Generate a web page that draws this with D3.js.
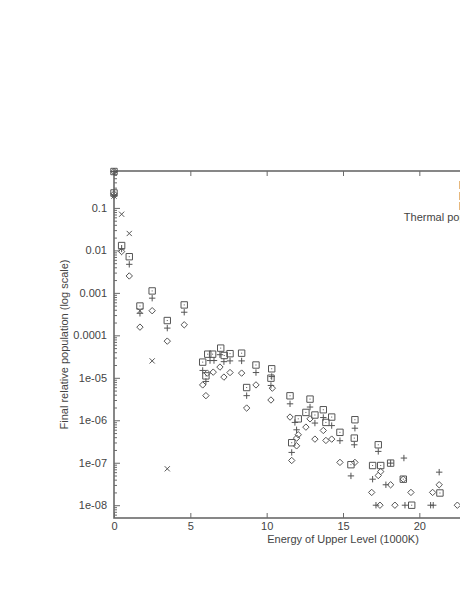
<!DOCTYPE html>
<html>
<head>
<meta charset="utf-8">
<script src="https://cdn.jsdelivr.net/npm/d3@7"></script>
<style>
  body { margin: 0; background: #fff; }
  svg { display: block; }
  text { font-family: "Liberation Sans", Arial, sans-serif; font-size: 11px; fill: #444; }
</style>
</head>
<body>
<svg id="chart" width="460" height="595"></svg>
<script>
// [energy (1000K), final relative population]
const boxPts = [
  [0, 0.72], [0, 0.225], [0.5, 0.013], [1.0, 0.0071], [1.7, 0.00049], [2.5, 0.00111],
  [3.49, 0.000223], [4.6, 0.00052], [5.81, 2.34e-5], [6.02, 1.11e-5], [6.14, 3.6e-5],
  [6.46, 3.6e-5], [6.99, 5.0e-5], [7.22, 3.35e-5], [7.6, 3.7e-5], [8.36, 3.8e-5],
  [8.69, 5.9e-6], [9.3, 2.0e-5], [10.28, 9.8e-6], [10.33, 1.63e-5], [11.53, 3.77e-6],
  [11.64, 2.96e-7], [12.07, 1.08e-6], [12.57, 1.53e-6], [12.84, 3.15e-6], [13.16, 1.33e-6],
  [13.71, 1.77e-6], [13.88, 8.9e-7], [14.26, 1.19e-6], [14.8, 5.2e-7], [15.52, 9.0e-8],
  [15.74, 3.8e-7], [15.78, 1.03e-6], [16.94, 8.6e-8], [17.31, 2.65e-7], [17.47, 8.6e-8],
  [18.12, 9.8e-8], [18.95, 4.1e-8], [19.5, 1.0e-8], [21.35, 1.94e-8]
];
const plusPts = [
  [0, 0.72], [0, 0.19], [0.5, 0.0108], [1.0, 0.0047], [1.7, 0.00033], [2.5, 0.00075],
  [3.49, 0.000148], [4.6, 0.00035], [5.81, 1.49e-5], [6.02, 8.2e-6], [6.29, 2.55e-5],
  [6.55, 2.55e-5], [6.94, 3.5e-5], [7.2, 2.4e-5], [7.6, 2.5e-5], [8.36, 2.5e-5],
  [8.69, 3.8e-6], [9.3, 1.33e-5], [10.28, 6.6e-6], [10.33, 1.07e-5], [11.53, 2.44e-6],
  [11.64, 1.75e-7], [11.85, 8.9e-7], [11.96, 5.97e-7], [12.84, 2.05e-6], [13.16, 8.6e-7],
  [13.71, 1.16e-6], [14.26, 7.5e-7], [14.8, 3.3e-7], [15.52, 4.9e-8], [15.74, 2.65e-7],
  [15.78, 6.5e-7], [16.94, 4.1e-8], [17.16, 1.0e-8], [17.31, 1.85e-7], [17.81, 3.03e-8],
  [18.12, 9.8e-8], [18.99, 1.29e-7], [19.06, 1.0e-8], [20.74, 1.0e-8], [20.91, 1.0e-8],
  [21.3, 6.0e-8]
];
const diamondPts = [
  [0, 0.72], [0, 0.214], [0.5, 0.0094], [1.0, 0.0025], [1.7, 0.000156], [2.5, 0.00038],
  [3.49, 7.3e-5], [4.6, 0.000177], [5.81, 6.8e-6], [6.02, 3.8e-6], [6.11, 1.29e-5],
  [6.5, 1.36e-5], [6.94, 1.79e-5], [7.2, 1.04e-5], [7.6, 1.33e-5], [8.36, 1.29e-5],
  [8.69, 1.94e-6], [9.3, 6.8e-6], [10.28, 3.0e-6], [10.37, 5.7e-6], [11.53, 1.19e-6],
  [11.64, 1.13e-7], [11.96, 3.8e-7], [11.96, 2.5e-7], [12.07, 4.56e-7], [12.57, 6.9e-7],
  [12.84, 1.08e-6], [13.16, 3.6e-7], [13.71, 5.75e-7], [13.88, 3.35e-7], [14.26, 3.6e-7],
  [14.8, 1.02e-7], [15.78, 1.02e-7], [16.88, 2.0e-8], [17.31, 5.0e-8], [17.42, 1.0e-8],
  [17.47, 6.2e-8], [18.12, 3.03e-8], [18.4, 1.0e-8], [18.95, 4.1e-8], [19.45, 2.0e-8],
  [20.87, 2.0e-8], [21.3, 3.03e-8], [22.49, 1.0e-8]
];
const thermalPts = [
  [0, 0.19], [0.5, 0.071], [1.0, 0.025], [1.7, 0.00038], [2.5, 2.5e-5], [3.49, 7.2e-8]
];

const xTicks = [0, 5, 10, 15, 20, 25, 30];
const xTickLabels = ['0', '5', '10', '15', '20', '', ''];
const yTicks = [1e-8, 1e-7, 1e-6, 1e-5, 1e-4, 1e-3, 1e-2, 1e-1];
const yTickLabels = ['1e-08', '1e-07', '1e-06', '1e-05', '0.0001', '0.001', '0.01', '0.1'];
const keyLabels = ['Model 1', 'Model 2', 'Model 3', 'Thermal population'];

const svg = d3.select('#chart');
const plotL = 114, plotR = 572, plotT = 171, plotB = 518;
const ink = '#6a6a6a';
const markInk = '#555';

const x = d3.scaleLinear().domain([0, 30]).range([plotL, plotR]);
const y = d3.scaleLog().domain([5e-9, 0.74]).range([plotB, plotT]);

// minor log ticks 2..9 x 10^n
const minor = [];
for (let e = -9; e <= -1; e++) {
  for (let m = 2; m <= 9; m++) {
    const v = m * Math.pow(10, e);
    if (v > 5e-9 && v < 0.74) minor.push(v);
  }
}

const styleAxis = (g) => {
  g.select('.domain').remove();
  g.selectAll('line').attr('stroke', ink).attr('stroke-width', 1);
  g.selectAll('text').attr('fill', '#444').attr('font-size', 11)
    .attr('font-family', '"Liberation Sans", Arial, sans-serif');
};

svg.append('g')
  .attr('transform', `translate(${plotL},0)`)
  .call(d3.axisLeft(y).tickValues(yTicks)
    .tickFormat((d, i) => yTickLabels[i]).tickSizeInner(-6).tickPadding(7))
  .call(styleAxis);

svg.append('g')
  .attr('transform', `translate(${plotL},0)`)
  .call(d3.axisLeft(y).tickValues(minor).tickFormat('').tickSizeInner(-3))
  .call(styleAxis);

svg.append('g')
  .attr('transform', `translate(0,${plotB})`)
  .call(d3.axisBottom(x).tickValues(xTicks).tickFormat((d, i) => xTickLabels[i])
    .tickSizeInner(-5).tickPadding(4))
  .call(styleAxis);

svg.append('g')
  .attr('transform', `translate(0,${plotT})`)
  .call(d3.axisTop(x).tickValues(xTicks).tickFormat('').tickSizeInner(-5))
  .call(styleAxis);

// frame
svg.append('rect')
  .attr('x', plotL).attr('y', plotT)
  .attr('width', plotR - plotL).attr('height', plotB - plotT)
  .attr('fill', 'none').attr('stroke', ink).attr('stroke-width', 1.6);

// marker shapes
const shapes = {
  box: (s) => `M${-s},${-s}h${2 * s}v${2 * s}h${-2 * s}Z M-0.5,0h1`,
  plus: (s) => `M${-s},0h${2 * s}M0,${-s}v${2 * s}`,
  diamond: (s) => `M0,${-s}L${s},0L0,${s}L${-s},0Z`,
  cross: (s) => `M${-s},${-s}L${s},${s}M${-s},${s}L${s},${-s}`
};

const drawSeries = (data, shape, size) => {
  svg.append('g')
    .selectAll('path')
    .data(data)
    .enter()
    .append('path')
    .attr('transform', (d) => `translate(${x(d[0])},${y(d[1])})`)
    .attr('d', shapes[shape](size))
    .attr('fill', 'none')
    .attr('stroke', markInk)
    .attr('stroke-width', 1);
};

drawSeries(boxPts, 'box', 3.2);
drawSeries(plusPts, 'plus', 3.2);
drawSeries(diamondPts, 'diamond', 3.2);
drawSeries(thermalPts, 'cross', 2.6);

// key (right-justified text, samples fall beyond the window)
svg.append('g')
  .selectAll('text')
  .data(keyLabels)
  .enter()
  .append('text')
  .attr('x', 498)
  .attr('y', (d, i) => 189 + i * 10.6)
  .attr('text-anchor', 'end')
  .text((d) => d);

// axis titles
svg.append('text')
  .attr('x', x(15))
  .attr('y', 543)
  .attr('text-anchor', 'middle')
  .text('Energy of Upper Level (1000K)');

svg.append('text')
  .attr('transform', `translate(68,${(plotT + plotB) / 2}) rotate(-90)`)
  .attr('text-anchor', 'middle')
  .text('Final relative population (log scale)');
</script>
</body>
</html>
